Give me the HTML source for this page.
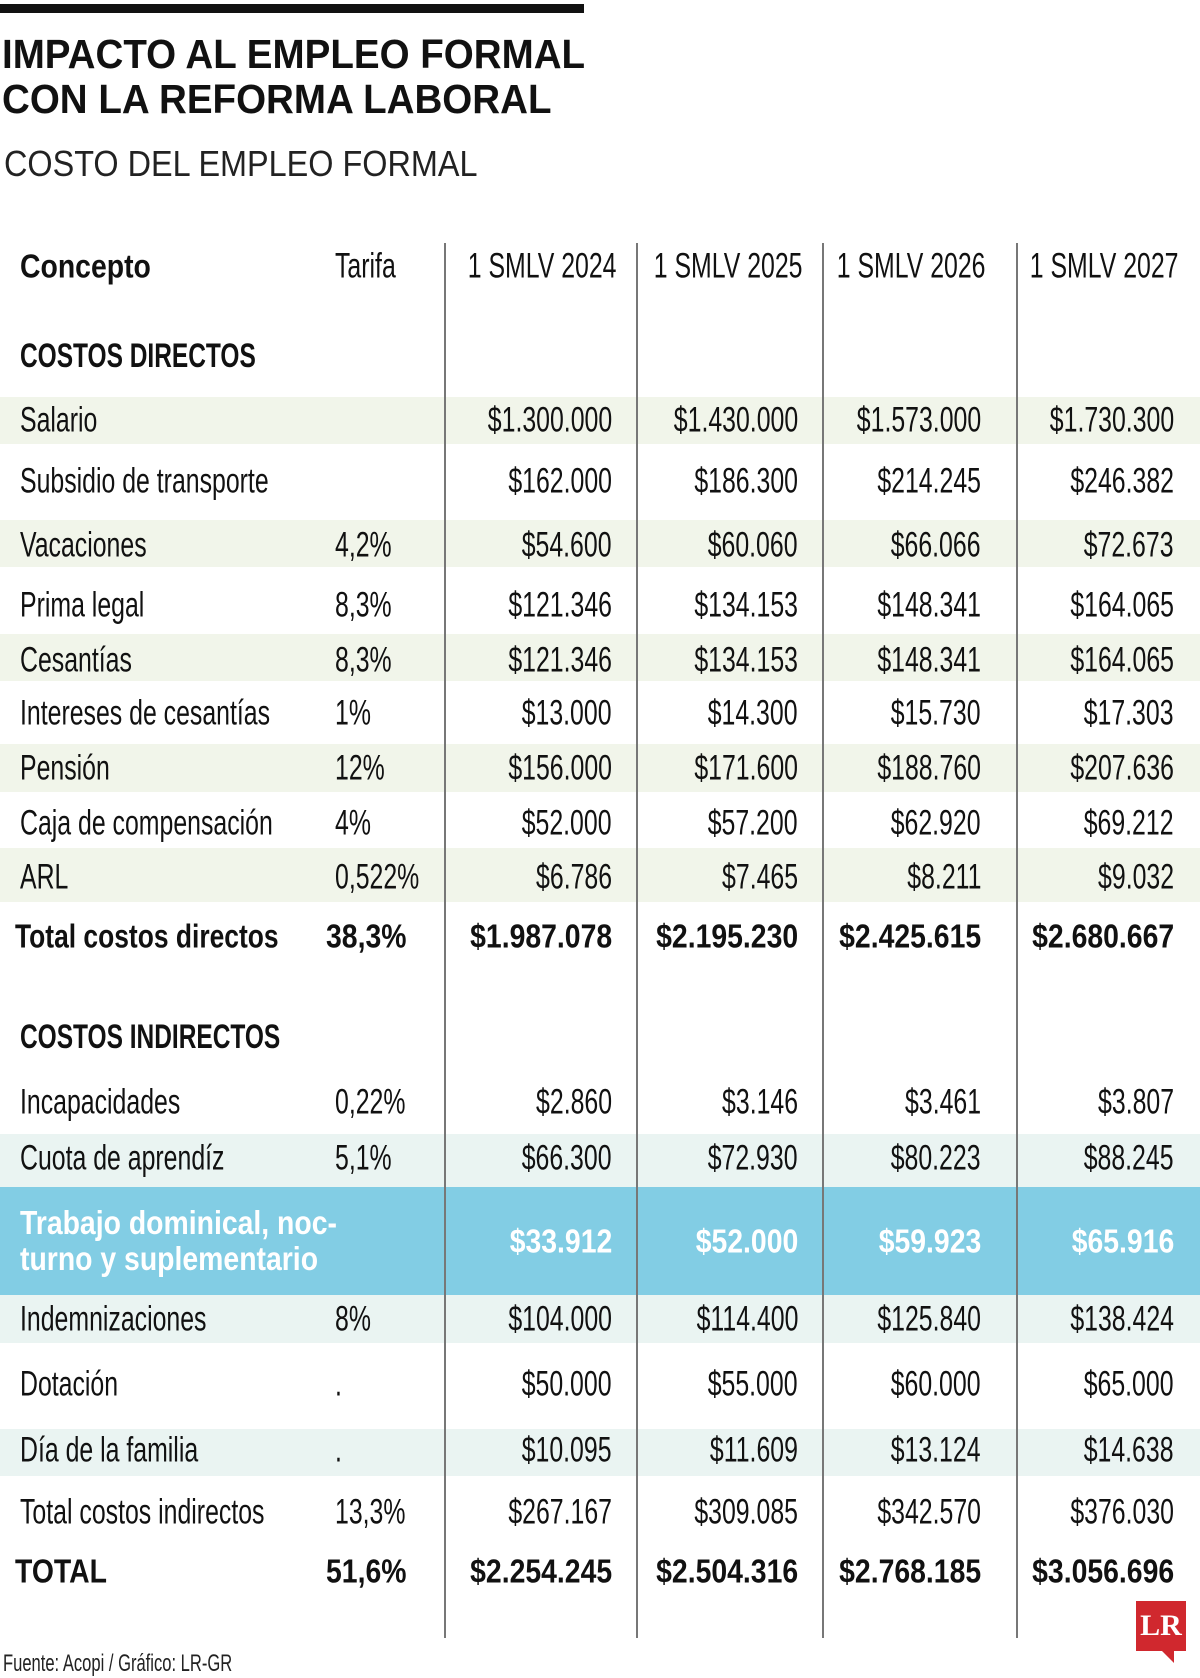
<!DOCTYPE html>
<html><head><meta charset="utf-8"><style>
body{margin:0;background:#fff;}
#wrap{position:relative;width:1200px;height:1678px;overflow:hidden;font-family:"Liberation Sans Narrow","Liberation Sans",sans-serif;color:#111;}
.band{position:absolute;left:0;width:1200px;}
.g{background:#f1f5ea}.b{background:#eaf4f2}
.vl{position:absolute;top:243px;height:1395px;width:2px;background:#777;}
.c{position:absolute;white-space:nowrap;line-height:1;font-size:35px;transform:translateY(-50%) scaleX(0.71);}
.c.bold{font-size:33px;transform:translateY(-50%) scaleX(0.86);}
.l{transform-origin:left center}
.r{transform-origin:right center;text-align:right}
.bold{font-weight:bold}
</style></head><body>
<div id="wrap">
<div style="position:absolute;left:0;top:4px;width:584px;height:9px;background:#111"></div>
<div style="position:absolute;left:2px;top:32px;font-family:'Liberation Sans',sans-serif;font-weight:bold;font-size:41px;line-height:45px;transform:scaleX(0.94);transform-origin:left top;white-space:nowrap">IMPACTO AL EMPLEO FORMAL<br>CON LA REFORMA LABORAL</div>
<div style="position:absolute;left:4px;top:143px;font-family:'Liberation Sans',sans-serif;font-size:36px;transform:scaleX(0.9);transform-origin:left top;white-space:nowrap;color:#222">COSTO DEL EMPLEO FORMAL</div>

<div class="band g" style="top:397px;height:47px"></div>
<div class="band g" style="top:520px;height:47px"></div>
<div class="band g" style="top:634px;height:47px"></div>
<div class="band g" style="top:744px;height:48px"></div>
<div class="band g" style="top:848px;height:54px"></div>
<div class="band b" style="top:1134px;height:53px"></div>
<div class="band" style="top:1187px;height:108px;background:#82cde4"></div>
<div class="band b" style="top:1295px;height:48px"></div>
<div class="band b" style="top:1429px;height:47px"></div>

<div class="vl" style="left:444px"></div>
<div class="vl" style="left:636px"></div>
<div class="vl" style="left:822px"></div>
<div class="vl" style="left:1016px"></div>

<div style="position:absolute;left:3px;top:1650px;font-size:24px;transform:scaleX(0.69);transform-origin:left top;white-space:nowrap;color:#222">Fuente: Acopi / Gráfico: LR-GR</div>
<div style="position:absolute;left:1136px;top:1601px;width:50px;height:50px;background:#d0282e;color:#fff;font-family:'Liberation Serif',serif;font-weight:bold;font-size:30px;line-height:50px;text-align:center">LR</div>
<div style="position:absolute;left:1162px;top:1651px;width:0;height:0;border-left:12px solid transparent;border-top:12px solid #d0282e"></div>
</div>
<script>
const rows=[
 [266,"Concepto","Tarifa",["1 SMLV 2024","1 SMLV 2025","1 SMLV 2026","1 SMLV 2027"],"hdr"],
 [356,"COSTOS DIRECTOS","",["","","",""],"sec"],
 [420,"Salario","",["$1.300.000","$1.430.000","$1.573.000","$1.730.300"],""],
 [481,"Subsidio de transporte","",["$162.000","$186.300","$214.245","$246.382"],""],
 [545,"Vacaciones","4,2%",["$54.600","$60.060","$66.066","$72.673"],""],
 [605,"Prima legal","8,3%",["$121.346","$134.153","$148.341","$164.065"],""],
 [660,"Cesantías","8,3%",["$121.346","$134.153","$148.341","$164.065"],""],
 [713,"Intereses de cesantías","1%",["$13.000","$14.300","$15.730","$17.303"],""],
 [768,"Pensión","12%",["$156.000","$171.600","$188.760","$207.636"],""],
 [823,"Caja de compensación","4%",["$52.000","$57.200","$62.920","$69.212"],""],
 [877,"ARL","0,522%",["$6.786","$7.465","$8.211","$9.032"],""],
 [936,"Total costos directos","38,3%",["$1.987.078","$2.195.230","$2.425.615","$2.680.667"],"bold"],
 [1037,"COSTOS INDIRECTOS","",["","","",""],"sec"],
 [1102,"Incapacidades","0,22%",["$2.860","$3.146","$3.461","$3.807"],""],
 [1158,"Cuota de aprendíz","5,1%",["$66.300","$72.930","$80.223","$88.245"],""],
 [1241,"Trabajo dominical, noc-\nturno y suplementario","",["$33.912","$52.000","$59.923","$65.916"],"blue"],
 [1319,"Indemnizaciones","8%",["$104.000","$114.400","$125.840","$138.424"],""],
 [1384,"Dotación",".",["$50.000","$55.000","$60.000","$65.000"],""],
 [1450,"Día de la familia",".",["$10.095","$11.609","$13.124","$14.638"],""],
 [1512,"Total costos indirectos","13,3%",["$267.167","$309.085","$342.570","$376.030"],""],
 [1571,"TOTAL","51,6%",["$2.254.245","$2.504.316","$2.768.185","$3.056.696"],"bold"]
];
const rights=[612,798,981,1174];
const host=document.getElementById('wrap');
function cell(txt,x,y,align,cls,name){
  const d=document.createElement('div');
  d.className='c '+align+' '+cls;
  
  
  if(align==='r'){d.style.right=(1200-x)+'px';}else{d.style.left=x+'px';}
  d.style.top=y+'px';
  d.innerHTML=txt.replace('\n','<br>');
  host.appendChild(d);return d;
}
rows.forEach(r=>{
  const [y,label,tar,vals,kind]=r;
  const bold=(kind==='bold'||kind==='sec'||kind==='blue'||kind==='hdr')?'bold':'';
  const l=cell(label,kind==='bold'?15:20,y,'l',bold,'row-label');
  if(kind==='blue'){l.style.color='#fff';l.style.lineHeight='36px';}
  if(kind==='sec'){l.style.fontSize='34px';l.style.transform='translateY(-50%) scaleX(0.72)';}
  if(kind==='bold'&&label!=='TOTAL'){l.style.transform='translateY(-50%) scaleX(0.8)';}
  if(tar){cell(tar,kind==='bold'?326:335,y,'l',kind==='bold'?'bold':'','tarifa-value');}
  vals.forEach((v,i)=>{
    if(!v)return;
    const c=cell(v,rights[i]+(kind==='hdr'?4:0),y,'r',(kind==='bold'||kind==='blue')?'bold':'','amount-cell');
    if(kind==='blue'){c.style.color='#fff';}
  });
});
</script>
</body></html>
